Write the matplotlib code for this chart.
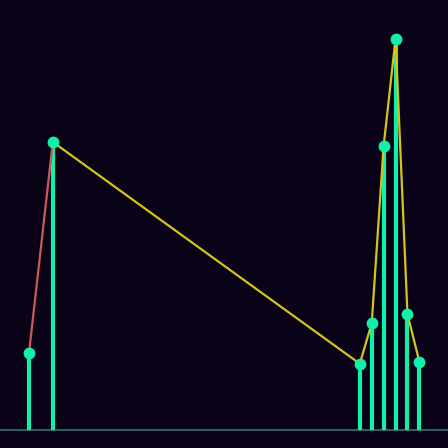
import matplotlib
matplotlib.use("Agg")
import matplotlib.pyplot as plt

x_vals = [0, 2, 27.75, 28.75, 29.75, 30.75, 31.75, 32.75]
y_vals = [76.5, 287.5, 65.8, 106.2, 283.5, 390.8, 115.2, 67.8]
seg_colors = ["#c85a5a", "#d4c41a", "#d4c41a", "#d4c41a", "#d4c41a", "#d4c41a", "#d4c41a"]

bg = "#0a0216"
stem_color = "#10f0a8"

fig = plt.figure(figsize=(4.48, 4.48), dpi=100, facecolor=bg)
ax = fig.add_axes([0, 0, 1, 1])
ax.set_facecolor(bg)

# baseline
ax.axhline(0, color="#3d6e6e", lw=1.2, zorder=1)

# stems
ax.vlines(x_vals, 0, y_vals, color=stem_color, lw=3, zorder=2)

# connecting line segments
for i in range(len(x_vals) - 1):
    ax.plot(x_vals[i:i + 2], y_vals[i:i + 2], color=seg_colors[i], lw=1.6, zorder=3)

# markers
ax.plot(x_vals, y_vals, "o", color=stem_color, ms=7.5, zorder=4, lw=0)

ax.set_xlim(-2.433, 35.15)
ax.set_ylim(-18.5, 429.5)
ax.axis("off")

fig.savefig("out.png", dpi=100, facecolor=bg)
